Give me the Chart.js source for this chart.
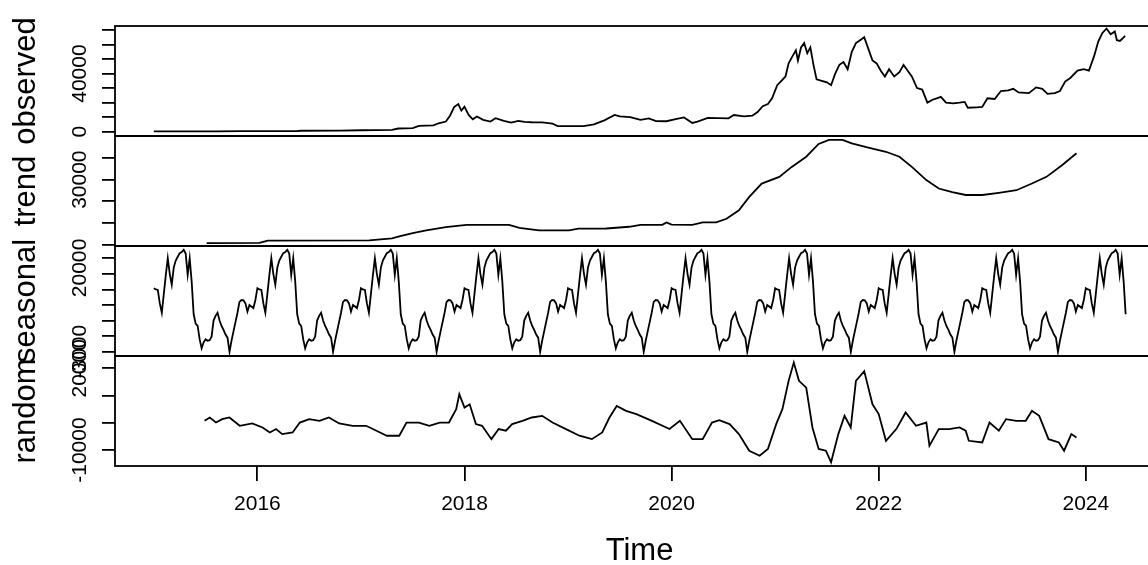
<!DOCTYPE html>
<html>
<head>
<meta charset="utf-8">
<script src="https://cdn.jsdelivr.net/npm/chart.js@4/dist/chart.umd.min.js"></script>
<style>
  html, body { margin: 0; padding: 0; background: #fff; overflow: hidden; }
  #wrap { width: 1148px; height: 565px; overflow: hidden; }
</style>
</head>
<body>
<div id="wrap"><canvas id="decomp" width="1170" height="565"></canvas></div>
<script>
// observed (weekly closes)
var obsTime = [2015.00,2015.30,2015.60,2015.85,2016.00,2016.38,2016.42,2016.80,2017.00,2017.30,2017.36,2017.50,2017.56,2017.70,2017.75,2017.82,2017.86,2017.90,2017.94,2017.97,
  2018.00,2018.04,2018.08,2018.12,2018.18,2018.25,2018.30,2018.38,2018.45,2018.52,2018.58,2018.65,2018.75,2018.85,2018.90,2019.00,2019.15,2019.25,2019.35,2019.45,
  2019.50,2019.60,2019.70,2019.78,2019.85,2019.95,2020.05,2020.12,2020.20,2020.25,2020.35,2020.45,2020.55,2020.60,2020.70,2020.78,2020.83,2020.88,2020.93,2020.97,
  2021.02,2021.06,2021.10,2021.13,2021.16,2021.20,2021.22,2021.25,2021.28,2021.31,2021.34,2021.37,2021.40,2021.45,2021.50,2021.54,2021.58,2021.62,2021.66,2021.70,
  2021.74,2021.78,2021.82,2021.86,2021.90,2021.94,2021.98,2022.02,2022.06,2022.10,2022.15,2022.20,2022.24,2022.28,2022.32,2022.37,2022.42,2022.47,2022.52,2022.56,
  2022.60,2022.65,2022.72,2022.78,2022.83,2022.86,2022.95,2023.00,2023.05,2023.12,2023.18,2023.25,2023.30,2023.35,2023.45,2023.52,2023.58,2023.63,2023.70,2023.75,
  2023.80,2023.85,2023.92,2023.98,2024.03,2024.08,2024.12,2024.16,2024.20,2024.24,2024.28,2024.30,2024.33,2024.38];
var obsValue = [280,240,280,380,430,450,650,700,1000,1200,2200,2500,4000,4300,5800,7000,11000,17000,19000,14500,
  17200,11500,8500,10500,8200,7000,9300,7500,6300,7500,6800,6500,6400,5500,3800,3800,3900,5000,7800,11500,
  10500,10000,8200,9200,7300,7200,8800,9800,6000,7000,9500,9400,9200,11500,10500,11000,13500,17500,19000,23000,
  32000,35000,38000,47000,51000,56000,49000,58000,61000,54000,58000,46000,36000,35000,34000,32000,40000,46000,48000,43000,
  55000,61000,63000,65000,57000,49000,47000,42000,38000,43000,38000,41000,46000,42000,38000,30000,29000,20000,22000,23000,
  24000,20000,19500,20000,20500,16500,16800,17000,23000,22500,28000,28500,29500,27000,26500,30500,29500,26000,26500,28000,
  34500,37000,42000,43000,42000,52000,62000,68000,71000,67000,69000,63000,62500,66000];

// trend (centred moving average)
var trendTime = [2015.51,2016.02,2016.10,2017.08,2017.30,2017.37,2017.50,2017.63,2017.82,2018.02,2018.43,2018.53,2018.72,2019.01,2019.10,2019.37,2019.59,2019.70,2019.91,2019.95,
  2020.00,2020.20,2020.30,2020.43,2020.53,2020.65,2020.75,2020.87,2021.04,2021.16,2021.30,2021.42,2021.52,2021.65,2021.74,2021.88,2022.07,2022.20,2022.32,2022.46,
  2022.58,2022.71,2022.84,2023.00,2023.16,2023.33,2023.48,2023.62,2023.77,2023.91];
var trendValue = [600,700,1800,1900,2800,3700,5300,6500,8000,9100,9100,7700,6500,6500,7300,7400,8200,9100,9100,10200,
  9200,9100,10200,10200,11900,15800,22000,28200,31300,35900,40600,46500,48400,48400,46800,45000,42900,40600,35900,29800,
  25900,24200,22900,22900,23900,25100,28200,31300,36700,42200];

// seasonal figure: one value per week of the year (decompose repeats it every year)
var seasonalFigure = [1080,1000,970,100,-500,700,1900,3010,2000,1300,2400,2850,3100,3330,3400,3550,3300,1935,3000,1500,
  -600,-1200,-1350,-2200,-2790,-2400,-2200,-2300,-2260,-2040,-1000,-700,-495,-1000,-1350,-1600,-1900,-2100,-3010,-2300,
  -1700,-1100,-500,200,320,300,100,-430,0,-100,-200,320];
var seasonalStart = 2015;
var seasonalWeeks = 489;

// random (remainder)
var randomTime = [2015.49,2015.54,2015.60,2015.66,2015.73,2015.83,2015.95,2016.05,2016.12,2016.18,2016.24,2016.34,2016.41,2016.50,2016.60,2016.69,2016.79,2016.92,2017.05,2017.15,
  2017.25,2017.37,2017.44,2017.56,2017.66,2017.76,2017.85,2017.92,2017.95,2018.00,2018.05,2018.11,2018.17,2018.26,2018.33,2018.40,2018.46,2018.56,2018.65,2018.75,
  2018.85,2018.98,2019.11,2019.23,2019.33,2019.40,2019.47,2019.56,2019.66,2019.81,2019.98,2020.08,2020.20,2020.30,2020.39,2020.46,2020.56,2020.65,2020.75,2020.85,
  2020.93,2021.01,2021.07,2021.13,2021.18,2021.23,2021.30,2021.36,2021.42,2021.49,2021.54,2021.61,2021.67,2021.73,2021.78,2021.86,2021.94,2022.00,2022.07,2022.17,
  2022.26,2022.36,2022.46,2022.49,2022.58,2022.68,2022.78,2022.84,2022.87,2023.00,2023.07,2023.16,2023.23,2023.33,2023.42,2023.48,2023.55,2023.64,2023.74,2023.79,
  2023.86,2023.91];
var randomValue = [730,1950,100,1350,1950,-1100,-250,-1700,-3550,-2300,-4150,-3550,100,1350,730,1950,-250,-1100,-1100,-2900,
  -4750,-4750,100,100,-1100,100,100,5000,10500,5600,6800,-480,-1100,-6000,-2300,-2900,-480,730,1950,2560,
  100,-2300,-4750,-6000,-3550,1950,6200,4400,3200,730,-2300,730,-6000,-6000,100,1000,-480,-4150,-10250,-12100,
  -9600,-480,5000,15400,22100,15400,12900,-1700,-9600,-10250,-14500,-4150,2560,-1700,15400,19000,6800,3200,-6600,-2300,
  3800,-1100,100,-8400,-2300,-2300,-1700,-2900,-6600,-7200,100,-2900,1350,730,730,4400,2560,-6000,-7200,-10250,
  -4150,-5400];

var panelNames = ['observed', 'trend', 'seasonal', 'random'];
var xTicks = [2016, 2018, 2020, 2022, 2024];
var obsTicks = [0, 10000, 20000, 30000, 40000, 50000, 60000, 70000];
var obsLabels = [0, 40000];
var trendTicks = [0, 10000, 20000, 30000, 40000];
var trendLabels = [0, 30000];
var seasonalTicks = [-3000, -2000, -1000, 0, 1000, 2000, 3000];
var seasonalLabels = [-3000, 2000];
var randomTicks = [-10000, 0, 10000, 20000];
var randomLabels = [-10000, 20000];

var seasonalTime = [], seasonalValue = [];
for (var i = 0; i < seasonalWeeks; i++) {
  seasonalTime.push(seasonalStart + i / 52);
  seasonalValue.push(seasonalFigure[i % 52]);
}

function pairs(xs, ys) {
  return xs.map(function (x, i) { return { x: x, y: ys[i] }; });
}

Chart.defaults.font.family = "'Liberation Sans', Arial, sans-serif";
Chart.defaults.color = '#000';

function panelAxis(name, min, max, ticks, labels) {
  return {
    type: 'linear',
    position: 'left',
    stack: 'panels',
    stackWeight: 1,
    min: min,
    max: max,
    shownLabels: labels,
    afterBuildTicks: function (s) { s.ticks = ticks.map(function (v) { return { value: v }; }); },
    afterFit: function (s) { s.width = 115; },
    ticks: { display: false },
    grid: { drawOnChartArea: false, drawTicks: true, tickLength: 13, color: '#000', lineWidth: 1.8 },
    border: { display: false },
    title: { display: true, text: name, color: '#000', font: { size: 31, lineHeight: 1.2 }, padding: { top: 8, bottom: 0 } }
  };
}

// R style: a box round every panel, y labels turned along the axis
var rPanels = {
  id: 'rPanels',
  afterDatasetsDraw: function (chart) {
    var ctx = chart.ctx, area = chart.chartArea;
    ctx.save();
    ctx.strokeStyle = '#000';
    ctx.lineWidth = 1.8;
    ctx.fillStyle = '#000';
    ctx.font = "21px 'Liberation Sans', Arial, sans-serif";
    ctx.textAlign = 'center';
    ctx.textBaseline = 'alphabetic';
    ['yObs', 'yTrend', 'ySeas', 'yRand'].forEach(function (id) {
      var s = chart.scales[id];
      ctx.strokeRect(area.left, s.top, area.right - area.left, s.bottom - s.top);
      s.options.shownLabels.forEach(function (v) {
        ctx.save();
        ctx.translate(s.right - 29, s.getPixelForValue(v));
        ctx.rotate(-Math.PI / 2);
        ctx.fillText(String(v), 0, 0);
        ctx.restore();
      });
    });
    ctx.restore();
  }
};

function series(data, axis) {
  return { data: data, yAxisID: axis, borderColor: '#000', borderWidth: 1.8, pointRadius: 0, tension: 0, fill: false };
}

new Chart(document.getElementById('decomp').getContext('2d'), {
  type: 'line',
  data: {
    datasets: [
      series(pairs(obsTime, obsValue), 'yObs'),
      series(pairs(trendTime, trendValue), 'yTrend'),
      series(pairs(seasonalTime, seasonalValue), 'ySeas'),
      series(pairs(randomTime, randomValue), 'yRand')
    ]
  },
  options: {
    responsive: false,
    animation: false,
    layout: { padding: { top: 26, right: 6, bottom: 0, left: 0 } },
    plugins: { legend: { display: false }, tooltip: { enabled: false } },
    scales: {
      x: {
        type: 'linear',
        position: 'bottom',
        min: 2014.625,
        max: 2024.755,
        afterBuildTicks: function (s) { s.ticks = xTicks.map(function (v) { return { value: v }; }); },
        afterFit: function (s) { s.height = 99; },
        ticks: { color: '#000', font: { size: 21 }, padding: 11, maxRotation: 0, autoSkip: false,
                 callback: function (v) { return String(v); } },
        grid: { drawOnChartArea: false, tickLength: 15, color: '#000', lineWidth: 1.8 },
        border: { display: false },
        title: { display: true, text: 'Time', color: '#000', font: { size: 31, lineHeight: 0.85 }, padding: 0 }
      },
      // last defined sits on top of the stack
      yRand: panelAxis(panelNames[3], -15860, 24530, randomTicks, randomLabels),
      ySeas: panelAxis(panelNames[2], -3280, 3790, seasonalTicks, seasonalLabels),
      yTrend: panelAxis(panelNames[1], -700, 50200, trendTicks, trendLabels),
      yObs: panelAxis(panelNames[0], -2960, 72750, obsTicks, obsLabels)
    }
  },
  plugins: [rPanels]
});
</script>
</body>
</html>
